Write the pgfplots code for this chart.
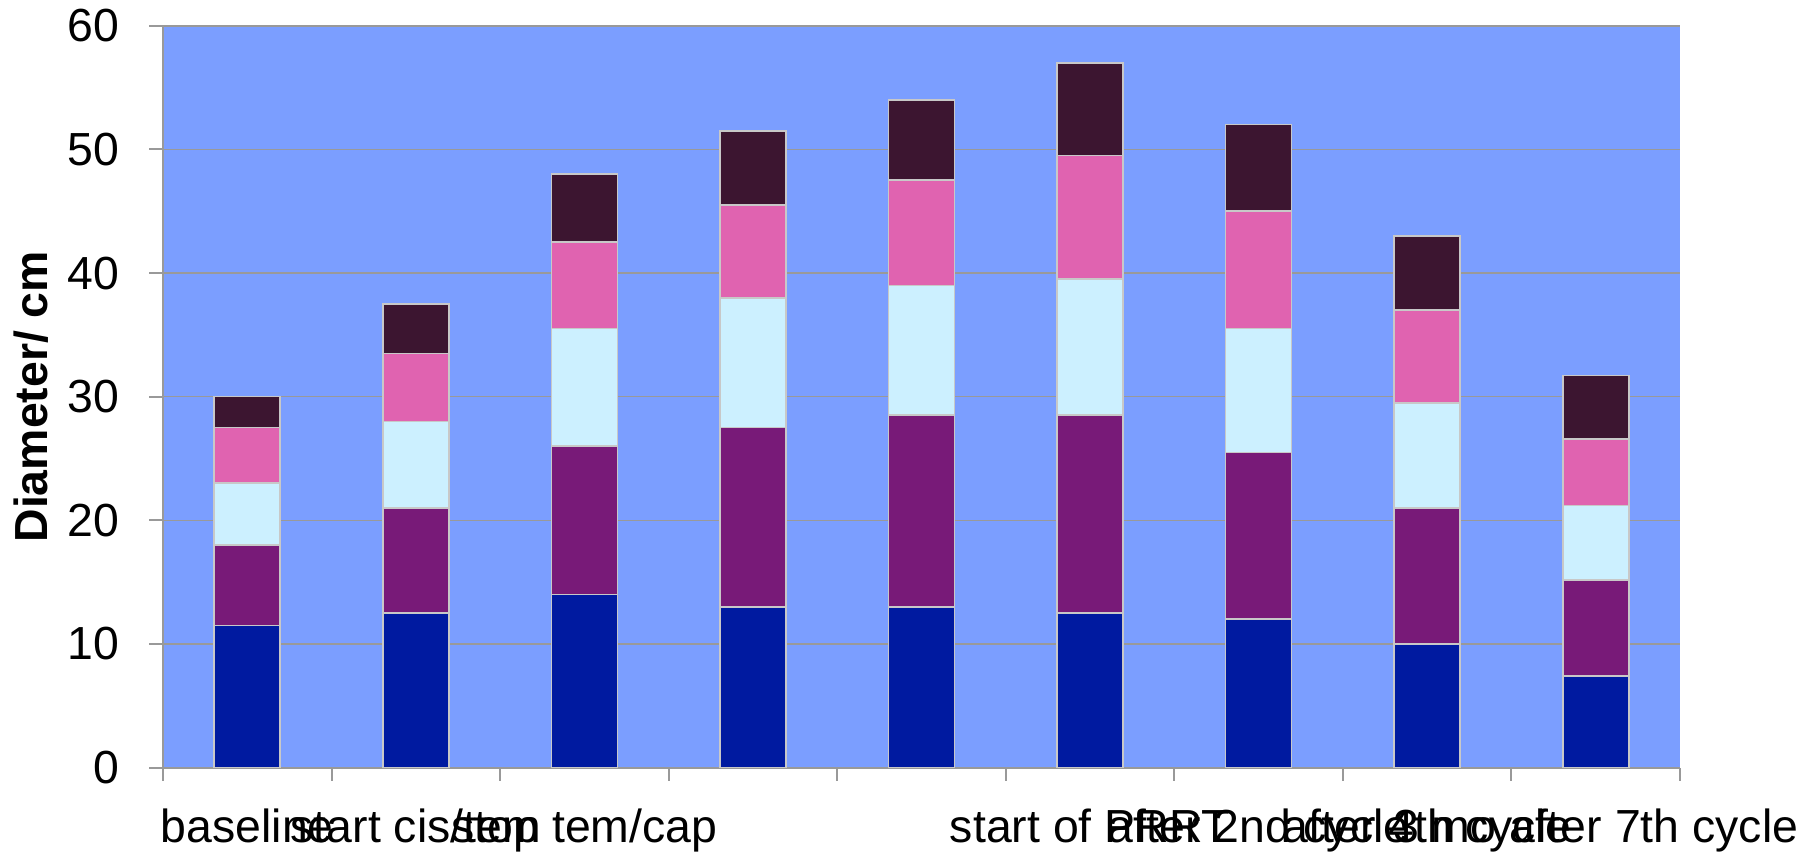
\documentclass[border=0pt]{standalone}
\usepackage{fontspec}
\setmainfont{Liberation Sans}
\usepackage{pgfplots}
\pgfplotsset{compat=1.18}
\usepackage{pgfplotstable}

\definecolor{bgblue}{RGB}{123,158,255}
\definecolor{segA}{RGB}{0,26,160}
\definecolor{segB}{RGB}{120,26,120}
\definecolor{segC}{RGB}{204,240,255}
\definecolor{segD}{RGB}{224,99,176}
\definecolor{segE}{RGB}{60,21,48}
\definecolor{gridgray}{RGB}{153,153,153}
\definecolor{edgegray}{RGB}{200,200,200}

% stacked segment heights (cm) for each time point
\pgfplotstableread{
x  a     b     c     d     e
1  11.5  6.5   5.0   4.5   2.5
2  12.5  8.5   7.0   5.5   4.0
3  14.0  12.0  9.5   7.0   5.5
4  13.0  14.5  10.5  7.5   6.0
5  13.0  15.5  10.5  8.5   6.5
6  12.5  16.0  11.0  10.0  7.5
7  12.0  13.5  10.0  9.5   7.0
8  10.0  11.0  8.5   7.5   6.0
9  7.4   7.8   6.0   5.4   5.1
}\diam

\begin{document}
\fontsize{11.6pt}{13.9pt}\selectfont
\begin{tikzpicture}
\begin{axis}[
  at={(0,0)}, anchor=south west,
  scale only axis, width=379.25pt, height=185.5pt,
  xmin=0.5, xmax=9.5, ymin=0, ymax=60,
  ybar stacked, bar width=16.5pt,
  axis background/.style={fill=bgblue},
  axis x line*=bottom, axis y line*=left,
  axis line style={draw=gridgray, line width=0.5pt, -},
  ytick={0,10,...,60},
  ymajorgrids, major grid style={draw=gridgray, line width=0.4pt},
  xtick={1,...,9},
  xticklabels={baseline, start cis/tem, stop tem/cap, , , start of PRRT, after 2nd cycle, after 4th cycle, 3 mo after 7th cycle},
  minor xtick={0.5,1.5,...,9.5},
  major x tick style={draw=none},
  tick align=outside,
  major tick length=3.5pt, minor tick length=3.3pt,
  tick style={draw=gridgray, line width=0.5pt},
  /pgf/number format/assume math mode=true,
  tick label style={font=\fontsize{11.6pt}{13.9pt}\selectfont},
  yticklabel style={anchor=east, inner sep=0pt, xshift=-7.3pt},
  xticklabel style={anchor=base, inner sep=0pt, yshift=-15.3pt},
  ylabel={\bfseries Diameter/ cm},
  ylabel style={at={(axis description cs:-0.0758,0.5)}, anchor=base, inner sep=0pt, font=\fontsize{11.6pt}{13.9pt}\selectfont},
  every axis plot/.append style={draw=edgegray, line width=0.4pt},
]
\addplot[fill=segA] table[x=x, y=a]{\diam};
\addplot[fill=segB] table[x=x, y=b]{\diam};
\addplot[fill=segC] table[x=x, y=c]{\diam};
\addplot[fill=segD] table[x=x, y=d]{\diam};
\addplot[fill=segE] table[x=x, y=e]{\diam};
\end{axis}
\pgfresetboundingbox
\path (-40.75pt,-21.575pt) rectangle (412.25pt,191.925pt);
\end{tikzpicture}
\end{document}
